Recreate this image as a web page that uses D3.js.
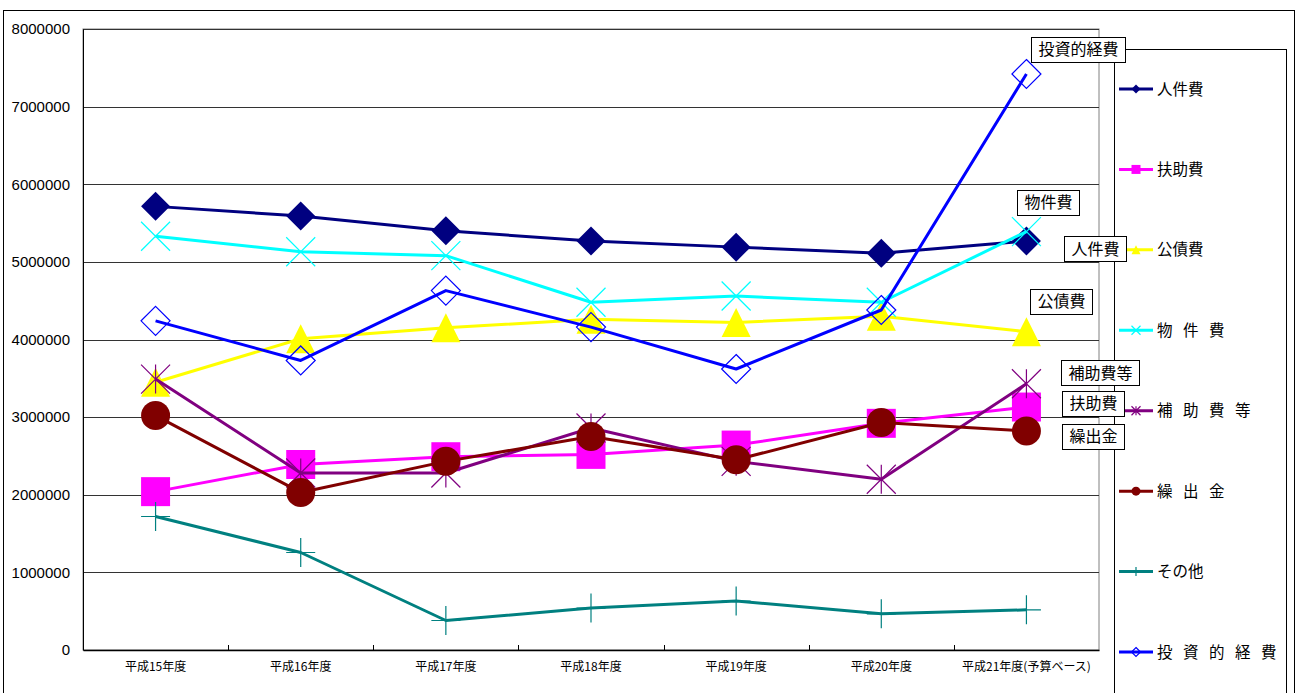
<!DOCTYPE html>
<html>
<head>
<meta charset="utf-8">
<script src="https://cdn.jsdelivr.net/npm/d3@7"></script>
<style>
  body { margin: 0; background: #fff; }
  svg { display: block; }
  .cjk { font-family: "Noto Sans CJK JP", "Noto Sans", sans-serif; }
</style>
</head>
<body>
<svg id="chart" width="1298" height="693"></svg>
<script>
// data (千円)
const categories = ["平成15年度", "平成16年度", "平成17年度", "平成18年度", "平成19年度", "平成20年度", "平成21年度(予算ベース)"];
const seriesNames = ["人件費", "扶助費", "公債費", "物件費", "補助費等", "繰出金", "その他", "投資的経費"];
const legendLabels = ["人件費", "扶助費", "公債費", "物 件 費", "補 助 費 等", "繰 出 金", "その他", "投 資 的 経 費"];
const jinkenhi = [5715000, 5590000, 5400000, 5270000, 5190000, 5110000, 5270000];
const fujohi = [2040000, 2390000, 2490000, 2520000, 2640000, 2920000, 3130000];
const kousaihi = [3450000, 4010000, 4150000, 4260000, 4220000, 4300000, 4100000];
const bukkenhi = [5330000, 5130000, 5080000, 4480000, 4560000, 4480000, 5390000];
const hojohi = [3490000, 2280000, 2280000, 2860000, 2430000, 2200000, 3430000];
const kuridashi = [3020000, 2030000, 2430000, 2750000, 2450000, 2930000, 2820000];
const sonota = [1720000, 1256000, 380000, 540000, 630000, 466000, 517000];
const toushi = [4240000, 3730000, 4630000, 4160000, 3620000, 4380000, 7420000];
const yTicks = [0, 1000000, 2000000, 3000000, 4000000, 5000000, 6000000, 7000000, 8000000];

const seriesValues = [jinkenhi, fujohi, kousaihi, bukkenhi, hojohi, kuridashi, sonota, toushi];
const colors = ["#000080", "#FF00FF", "#FFFF00", "#00FFFF", "#800080", "#800000", "#008080", "#0000FF"];
const markers = ["diamond", "square", "triangle", "cross", "star", "circle", "plus", "diamondOpen"];

// callout label offsets from the last point, and which series get one
const callouts = [
  { name: "投資的経費", dx: 52, dy: -25 },
  { name: "物件費", dx: 22, dy: -29 },
  { name: "人件費", dx: 69, dy: 8 },
  { name: "公債費", dx: 35, dy: -30 },
  { name: "補助費等", dx: 74, dy: -11 },
  { name: "扶助費", dx: 67, dy: -4 },
  { name: "繰出金", dx: 67, dy: 5 }
];

const svg = d3.select("#chart");
const plot = { left: 83, right: 1099, top: 29, bottom: 650 };

const x = d3.scaleBand().domain(categories).range([plot.left, plot.right]);
const y = d3.scaleLinear().domain([0, 8000000]).range([plot.bottom, plot.top]);
const cx = d => x(d) + x.bandwidth() / 2;

// chart frame
svg.append("rect")
  .attr("x", 3.5).attr("y", 10.5).attr("width", 1291).attr("height", 720)
  .attr("fill", "#fff").attr("stroke", "#000").attr("stroke-width", 1);

// plot area border (right/top in grey)
svg.append("rect")
  .attr("x", plot.left).attr("y", plot.top)
  .attr("width", plot.right - plot.left).attr("height", plot.bottom - plot.top)
  .attr("fill", "none").attr("stroke", "#808080").attr("stroke-width", 1);

// gridlines
svg.append("g")
  .selectAll("line")
  .data(yTicks.slice(1))
  .join("line")
  .attr("x1", plot.left).attr("x2", plot.right)
  .attr("y1", d => Math.round(y(d)) + 0.5).attr("y2", d => Math.round(y(d)) + 0.5)
  .attr("stroke", "#333").attr("stroke-width", 1);

// y axis
const yAxis = svg.append("g")
  .attr("transform", `translate(${plot.left},0)`)
  .call(d3.axisLeft(y).tickValues(yTicks).tickFormat(d3.format("d")).tickSize(0).tickPadding(13));
yAxis.select(".domain").attr("stroke", "#000");
yAxis.selectAll("text")
  .attr("font-family", "'Liberation Sans', Arial, sans-serif")
  .attr("font-size", 15).attr("fill", "#000");

// x axis
const xAxis = svg.append("g")
  .attr("transform", `translate(0,${plot.bottom})`)
  .call(d3.axisBottom(x).tickSize(0).tickPadding(12));
xAxis.select(".domain").attr("stroke", "#000").attr("stroke-width", 1.5);
xAxis.selectAll("text")
  .attr("class", "cjk")
  .attr("font-size", 12).attr("fill", "#000");

// tick marks between categories, pointing up
svg.append("g")
  .selectAll("line")
  .data(categories.slice(1))
  .join("line")
  .attr("x1", d => Math.round(x(d)) + 0.5).attr("x2", d => Math.round(x(d)) + 0.5)
  .attr("y1", plot.bottom).attr("y2", plot.bottom - 5)
  .attr("stroke", "#000");

function markerPath(type, s) {
  const h = s / 2;
  switch (type) {
    case "diamond":
    case "diamondOpen":
      return `M0,${-h}L${h},0L0,${h}L${-h},0Z`;
    case "square":
      return `M${-h},${-h}H${h}V${h}H${-h}Z`;
    case "triangle":
      return `M0,${-h}L${h},${h}L${-h},${h}Z`;
    case "cross":
      return `M${-h},${-h}L${h},${h}M${h},${-h}L${-h},${h}`;
    case "star":
      return `M${-h},${-h}L${h},${h}M${h},${-h}L${-h},${h}M0,${-h}V${h}`;
    case "plus":
      return `M0,${-h}V${h}M${-h},0H${h}`;
  }
}

function drawMarker(g, type, color, s) {
  if (type === "circle") {
    g.append("circle").attr("r", s / 2).attr("fill", color);
  } else if (type === "diamondOpen") {
    g.append("path").attr("d", markerPath(type, s))
      .attr("fill", "none").attr("stroke", color).attr("stroke-width", 1.2);
  } else if (type === "cross" || type === "star" || type === "plus") {
    g.append("path").attr("d", markerPath(type, s))
      .attr("fill", "none").attr("stroke", color).attr("stroke-width", 1.2);
  } else {
    g.append("path").attr("d", markerPath(type, s)).attr("fill", color);
  }
}

// legend box
const legendY = d3.scalePoint().domain(seriesNames).range([89, 652]);
svg.append("rect")
  .attr("x", 1114.5).attr("y", 49.5).attr("width", 172).attr("height", 700)
  .attr("fill", "#fff").attr("stroke", "#000");

const line = d3.line().x((d, i) => cx(categories[i])).y(d => y(d));

// series: line then markers, in order
seriesNames.forEach((name, si) => {
  const vals = seriesValues[si];
  const g = svg.append("g");
  g.append("path")
    .datum(vals)
    .attr("d", line)
    .attr("fill", "none")
    .attr("stroke", colors[si])
    .attr("stroke-width", 3)
    .attr("stroke-linejoin", "round");
  vals.forEach((v, i) => {
    const m = g.append("g").attr("transform", `translate(${cx(categories[i])},${y(v)})`);
    drawMarker(m, markers[si], colors[si], 29);
  });

  // legend entry
  const ly = legendY(name);
  const lg = svg.append("g").attr("transform", `translate(1119,${ly})`);
  lg.append("line").attr("x1", 0).attr("x2", 34).attr("y1", 0).attr("y2", 0)
    .attr("stroke", colors[si]).attr("stroke-width", 3);
  const lm = lg.append("g").attr("transform", "translate(17,0)");
  drawMarker(lm, markers[si], colors[si], 9);
  lg.append("text")
    .attr("class", "cjk")
    .attr("x", 38).attr("y", 0).attr("dy", "0.36em")
    .attr("font-size", 15.5)
    .attr("letter-spacing", legendLabels[si].includes(" ") ? 3.5 : 0)
    .attr("xml:space", "preserve")
    .style("white-space", "pre")
    .text(legendLabels[si]);
});

// callout labels at the last point of each series
const last = categories.length - 1;
callouts.forEach(c => {
  const si = seriesNames.indexOf(c.name);
  const px = cx(categories[last]) + c.dx;
  const py = y(seriesValues[si][last]) + c.dy;
  const g = svg.append("g");
  const t = g.append("text")
    .attr("class", "cjk")
    .attr("x", px).attr("y", py).attr("dy", "0.36em")
    .attr("text-anchor", "middle")
    .attr("font-size", 16)
    .text(c.name);
  const bb = t.node().getBBox();
  g.insert("rect", "text")
    .attr("x", Math.round(px - bb.width / 2 - 7) + 0.5)
    .attr("y", Math.round(py - 12.5) + 0.5)
    .attr("width", Math.round(bb.width + 14))
    .attr("height", 25)
    .attr("fill", "#fff").attr("stroke", "#000");
});
</script>
</body>
</html>
